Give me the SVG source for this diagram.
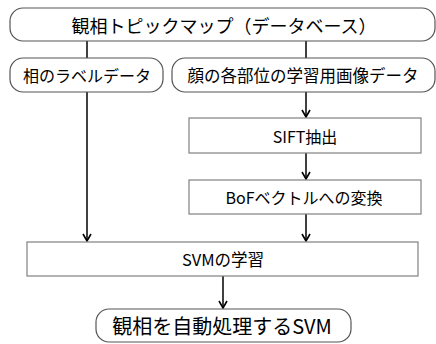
<svg xmlns="http://www.w3.org/2000/svg" width="436" height="344" viewBox="0 0 436 344">
<style>
.rr{fill:#fff;stroke:#555;stroke-width:1.2}
.bx{fill:#fff;stroke:#808080;stroke-width:1.2}
.t{font-family:"Noto Sans CJK JP","Noto Sans",sans-serif;fill:#000;text-anchor:middle;dominant-baseline:central}
.ln{stroke:#000;stroke-width:1.5;fill:none}
</style>
<defs>
<marker id="ah" markerWidth="10" markerHeight="10" refX="9" refY="5" orient="auto" markerUnits="userSpaceOnUse" viewBox="0 0 10 10">
<path d="M2,1 L9,5 L2,9" fill="none" stroke="#000" stroke-width="1.6"/>
</marker>
</defs>
<g id="connectors">
<line class="ln" x1="87" y1="41" x2="87" y2="58"/>
<line class="ln" x1="306" y1="41" x2="306" y2="58"/>
<line class="ln" x1="306" y1="92" x2="306" y2="117" marker-end="url(#ah)"/>
<line class="ln" x1="306" y1="153" x2="306" y2="179" marker-end="url(#ah)"/>
<line class="ln" x1="87" y1="92" x2="87" y2="241" marker-end="url(#ah)"/>
<line class="ln" x1="306" y1="214" x2="306" y2="241" marker-end="url(#ah)"/>
<line class="ln" x1="223" y1="276" x2="223" y2="308" marker-end="url(#ah)"/>
</g>
<g id="n_top">
<rect class="rr" x="10" y="8" width="425" height="33" rx="13"/>
<text class="t" x="224" y="24.5" font-size="18">観相トピックマップ（データベース）</text>
</g>
<g id="n_label">
<rect class="rr" x="10" y="58" width="153" height="34" rx="13"/>
<text class="t" x="87" y="75" font-size="16">相のラベルデータ</text>
</g>
<g id="n_image">
<rect class="rr" x="172" y="58" width="263" height="34" rx="13"/>
<text class="t" x="303" y="75" font-size="16.5">顔の各部位の学習用画像データ</text>
</g>
<g id="n_sift">
<rect class="bx" x="189" y="118" width="232" height="35"/>
<text class="t" x="305" y="135.5" font-size="16">SIFT抽出</text>
</g>
<g id="n_bof">
<rect class="bx" x="189" y="180" width="232" height="34"/>
<text class="t" x="304" y="197" font-size="16">BoFベクトルへの変換</text>
</g>
<g id="n_svm">
<rect class="bx" x="27" y="242" width="391" height="34"/>
<text class="t" x="223" y="259" font-size="16.5">SVMの学習</text>
</g>
<g id="n_out">
<rect class="rr" x="96" y="309" width="255" height="33" rx="13"/>
<text class="t" x="222" y="325.5" font-size="20">観相を自動処理するSVM</text>
</g>
</svg>
